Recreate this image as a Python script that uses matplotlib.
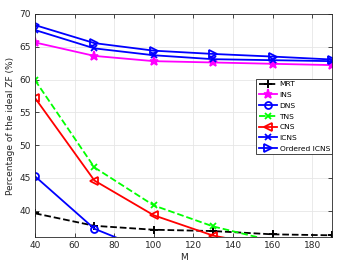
import matplotlib
matplotlib.use("Agg")
import matplotlib.pyplot as plt

M = [40, 70, 100, 130, 160, 190]
mrt = [39.6, 37.7, 37.1, 36.9, 36.4, 36.25]
ins = [65.65, 63.6, 62.8, 62.6, 62.4, 62.2]
dns = [45.25, 37.25, 33.6, 31.0, 29.0, 27.5]
tns = [59.9, 46.6, 40.8, 37.6, 35.4, 34.0]
cns = [57.2, 44.6, 39.3, 36.2, 34.5, 33.5]
icns = [67.55, 64.75, 63.7, 63.1, 62.95, 62.8]
oicns = [68.3, 65.55, 64.4, 63.9, 63.5, 63.05]

labels = ["MRT", "INS", "DNS", "TNS", "CNS", "ICNS", "Ordered ICNS"]

fig = plt.figure(figsize=(3.5, 2.63), dpi=100)
ax = fig.add_axes([0.1, 0.099, 0.849, 0.848])

lw = 1.3
ax.plot(M, mrt, color="black", ls="--", marker="+", ms=6, mew=1.4, lw=lw, label=labels[0])
ax.plot(M, ins, color="#ff00ff", ls="-", marker="*", ms=6.5, mew=1.2, lw=lw, label=labels[1])
ax.plot(M, dns, color="#0000ff", ls="-", marker="o", ms=5, mew=1.3, mfc="none", lw=lw, label=labels[2])
ax.plot(M, tns, color="#00ff00", ls="--", marker="x", ms=5, mew=1.3, lw=lw, label=labels[3])
ax.plot(M, cns, color="#ff0000", ls="-", marker="<", ms=6, mew=1.3, mfc="none", lw=lw, label=labels[4])
ax.plot(M, icns, color="#0000ff", ls="-", marker="x", ms=5, mew=1.3, lw=lw, label=labels[5])
ax.plot(M, oicns, color="#0000ff", ls="-", marker=">", ms=6, mew=1.3, mfc="none", lw=lw, label=labels[6])

ax.set_xlim(40, 190)
ax.set_ylim(36, 70)
ax.set_xticks([40, 60, 80, 100, 120, 140, 160, 180])
ax.set_yticks([40, 45, 50, 55, 60, 65, 70])
ax.grid(True, color="#e6e6e6", lw=0.6)
ax.set_axisbelow(True)
ax.tick_params(direction="in", length=3, width=0.6, labelsize=6.5, colors="#262626",
               top=True, right=True, pad=3)
for s in ax.spines.values():
    s.set_color("#262626")
    s.set_linewidth(0.6)
ax.set_xlabel("M", fontsize=6.5, color="#262626", labelpad=2)
ax.set_ylabel("Percentage of the ideal ZF (%)", fontsize=6.5, color="#262626", labelpad=3)

leg = ax.legend(loc="upper right", bbox_to_anchor=(1.0, 0.709), fontsize=5.4, handlelength=2.4,
                handletextpad=0.4, borderpad=0.3, labelspacing=0.6, frameon=True,
                borderaxespad=0, fancybox=False, edgecolor="#262626", framealpha=1)
leg.get_frame().set_linewidth(0.6)

fig.savefig("out.png", dpi=100)
